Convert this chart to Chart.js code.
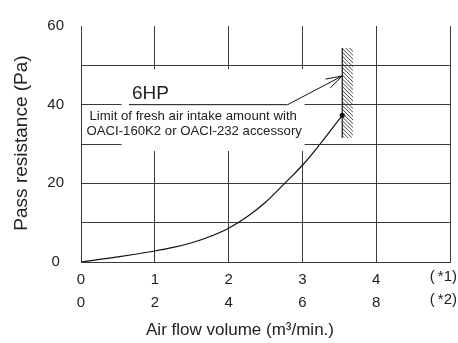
<!DOCTYPE html>
<html>
<head>
<meta charset="utf-8">
<script src="https://cdn.jsdelivr.net/npm/chart.js@4.4.1/dist/chart.umd.min.js"></script>
<style>
  html, body { margin: 0; padding: 0; background: #fff; }
  #wrap { width: 458px; height: 343px; }
</style>
</head>
<body>
<div id="wrap"><canvas id="c" width="458" height="343"></canvas></div>
<script>
// Air flow (m3/min) tick rows: primary (*1) and secondary (*2)
const flowTicks = [0, 1, 2, 3, 4];
const flowTicksAlt = [0, 2, 4, 6, 8];
const flowNotes = ['(\u2009*1)', '(\u2009*2)'];

// Pass resistance curve for 6HP
const flowValues = [0, 0.5, 1, 1.25, 1.5, 1.75, 2, 2.25, 2.5, 2.76, 3, 3.24, 3.54];
const pressureValues = [0, 1.3, 2.8, 3.7, 4.9, 6.5, 8.6, 11.5, 15.2, 20, 24.6, 30, 37.3];
const pressureTicks = [0, 20, 40, 60];

// Fresh air intake limit (hatched band) and the label arrow
const limitFlow = 3.54;
const limitBand = [31.6, 54.4];
const arrowFrom = [2.8, 40];
const arrowTo = [3.54, 47.3];
const leaderStart = 0.65;
const labelBox = { x0: 0.55, x1: 3.03, y0: 28.2, y1: 49 };

const FONT = '"Liberation Sans", Arial, sans-serif';
const GRID = '#3a3a3a';

const curve = flowValues.map((x, i) => ({ x, y: pressureValues[i] }));

const overlay = {
  id: 'overlay',
  beforeDatasetsDraw(chart) {
    const { ctx, scales: { x, y } } = chart;
    // white backing behind the label block
    ctx.save();
    ctx.fillStyle = '#fff';
    const bx = x.getPixelForValue(labelBox.x0), bx1 = x.getPixelForValue(labelBox.x1);
    const by = y.getPixelForValue(labelBox.y1), by1 = y.getPixelForValue(labelBox.y0);
    ctx.fillRect(bx, by, bx1 - bx, by1 - by);
    ctx.restore();
  },
  afterDatasetsDraw(chart) {
    const { ctx, scales: { x, y } } = chart;
    ctx.save();
    ctx.strokeStyle = '#111';
    ctx.fillStyle = '#111';

    // hatched limit band
    const lx = x.getPixelForValue(limitFlow);
    const ly0 = y.getPixelForValue(limitBand[1]);
    const ly1 = y.getPixelForValue(limitBand[0]);
    const hw = 11;
    ctx.save();
    ctx.beginPath();
    ctx.rect(lx, ly0, hw, ly1 - ly0);
    ctx.clip();
    ctx.strokeStyle = '#333';
    ctx.lineWidth = 0.9;
    ctx.beginPath();
    for (let yy = ly0 - hw; yy < ly1 + hw; yy += 3.8) {
      ctx.moveTo(lx, yy);
      ctx.lineTo(lx + hw, yy + hw);
    }
    ctx.stroke();
    ctx.restore();
    ctx.lineWidth = 1.2;
    ctx.beginPath();
    ctx.moveTo(lx, ly0);
    ctx.lineTo(lx, ly1);
    ctx.stroke();

    // leader line and open arrow
    const ax0 = x.getPixelForValue(arrowFrom[0]), ay0 = y.getPixelForValue(arrowFrom[1]);
    const ax1 = x.getPixelForValue(arrowTo[0]), ay1 = y.getPixelForValue(arrowTo[1]);
    ctx.lineWidth = 1;
    ctx.beginPath();
    ctx.moveTo(x.getPixelForValue(leaderStart), ay0);
    ctx.lineTo(ax0, ay0);
    ctx.lineTo(ax1, ay1);
    ctx.stroke();
    const ang = Math.atan2(ay1 - ay0, ax1 - ax0);
    const len = 17, spread = 0.3;
    ctx.beginPath();
    ctx.moveTo(ax1 - len * Math.cos(ang - spread), ay1 - len * Math.sin(ang - spread));
    ctx.lineTo(ax1, ay1);
    ctx.lineTo(ax1 - len * Math.cos(ang + spread), ay1 - len * Math.sin(ang + spread));
    ctx.stroke();

    // label texts
    ctx.fillStyle = '#222';
    ctx.textBaseline = 'middle';
    ctx.textAlign = 'left';
    ctx.font = '19px ' + FONT;
    ctx.fillText('6HP', x.getPixelForValue(0.69), y.getPixelForValue(42.7));
    ctx.textAlign = 'center';
    ctx.font = '13.2px ' + FONT;
    const cx = x.getPixelForValue(1.52);
    ctx.fillText('Limit of fresh air intake amount with', cx, y.getPixelForValue(37));
    ctx.fillText('OACI-160K2 or OACI-232 accessory', cx + 1, y.getPixelForValue(33.1));
    ctx.restore();
  },
  afterDraw(chart) {
    const { ctx, scales: { x } } = chart;
    ctx.save();
    ctx.fillStyle = '#222';
    // right-hand unit notes for the two tick rows
    ctx.font = '15px ' + FONT;
    ctx.textAlign = 'right';
    ctx.textBaseline = 'middle';
    const nx = x.getPixelForValue(5) + 7;
    ctx.fillText(flowNotes[0], nx, 277);
    ctx.fillText(flowNotes[1], nx, 300);

    // axis titles
    ctx.font = '17px ' + FONT;
    ctx.textAlign = 'center';
    ctx.fillText('Air flow volume (m\u00B3/min.)', 240, 330);
    ctx.save();
    ctx.font = '19px ' + FONT;
    ctx.translate(22, 143);
    ctx.rotate(-Math.PI / 2);
    ctx.fillText('Pass resistance (Pa)', 0, 0);
    ctx.restore();
    ctx.restore();
  }
};

new Chart(document.getElementById('c'), {
  type: 'line',
  data: {
    datasets: [{
      data: curve,
      borderColor: '#111',
      borderWidth: 1.2,
      tension: 0.4,
      pointRadius: ctx => (ctx.dataIndex === curve.length - 1 ? 2.6 : 0),
      pointBackgroundColor: '#111',
      pointBorderWidth: 0,
      fill: false
    }]
  },
  options: {
    responsive: false,
    animation: false,
    devicePixelRatio: 1,
    layout: { padding: { left: 0, right: 8, top: 17, bottom: 0 } },
    plugins: { legend: { display: false }, tooltip: { enabled: false }, title: { display: false } },
    scales: {
      x: {
        type: 'linear',
        min: 0,
        max: 5,
        afterFit: s => { s.height = 81; },
        afterBuildTicks: s => { s.ticks = [0, 1, 2, 3, 4, 5].map(v => ({ value: v })); },
        ticks: {
          autoSkip: false,
          maxRotation: 0,
          padding: 6,
          color: '#222',
          font: { family: FONT, size: 15, lineHeight: 1.55 },
          callback: v => {
            const i = flowTicks.indexOf(v);
            return i >= 0 ? [String(flowTicks[i]), String(flowTicksAlt[i])] : '';
          }
        },
        grid: { color: GRID, lineWidth: 1, drawTicks: false },
        border: { display: true, color: GRID, width: 1 }
      },
      y: {
        min: 0,
        max: 60,
        afterFit: s => { s.width = 81; },
        afterBuildTicks: s => { s.ticks = [0, 10, 20, 30, 40, 50, 60].map(v => ({ value: v })); },
        ticks: {
          autoSkip: false,
          padding: 17,
          crossAlign: 'center',
          color: '#222',
          font: { family: FONT, size: 15 },
          callback: v => (pressureTicks.includes(v) ? String(v) : '')
        },
        grid: {
          color: ctx => (ctx.tick && ctx.tick.value === 60 ? 'rgba(0,0,0,0)' : GRID),
          lineWidth: 1,
          drawTicks: false
        },
        border: { display: true, color: GRID, width: 1 }
      }
    }
  },
  plugins: [overlay]
});
</script>
</body>
</html>
